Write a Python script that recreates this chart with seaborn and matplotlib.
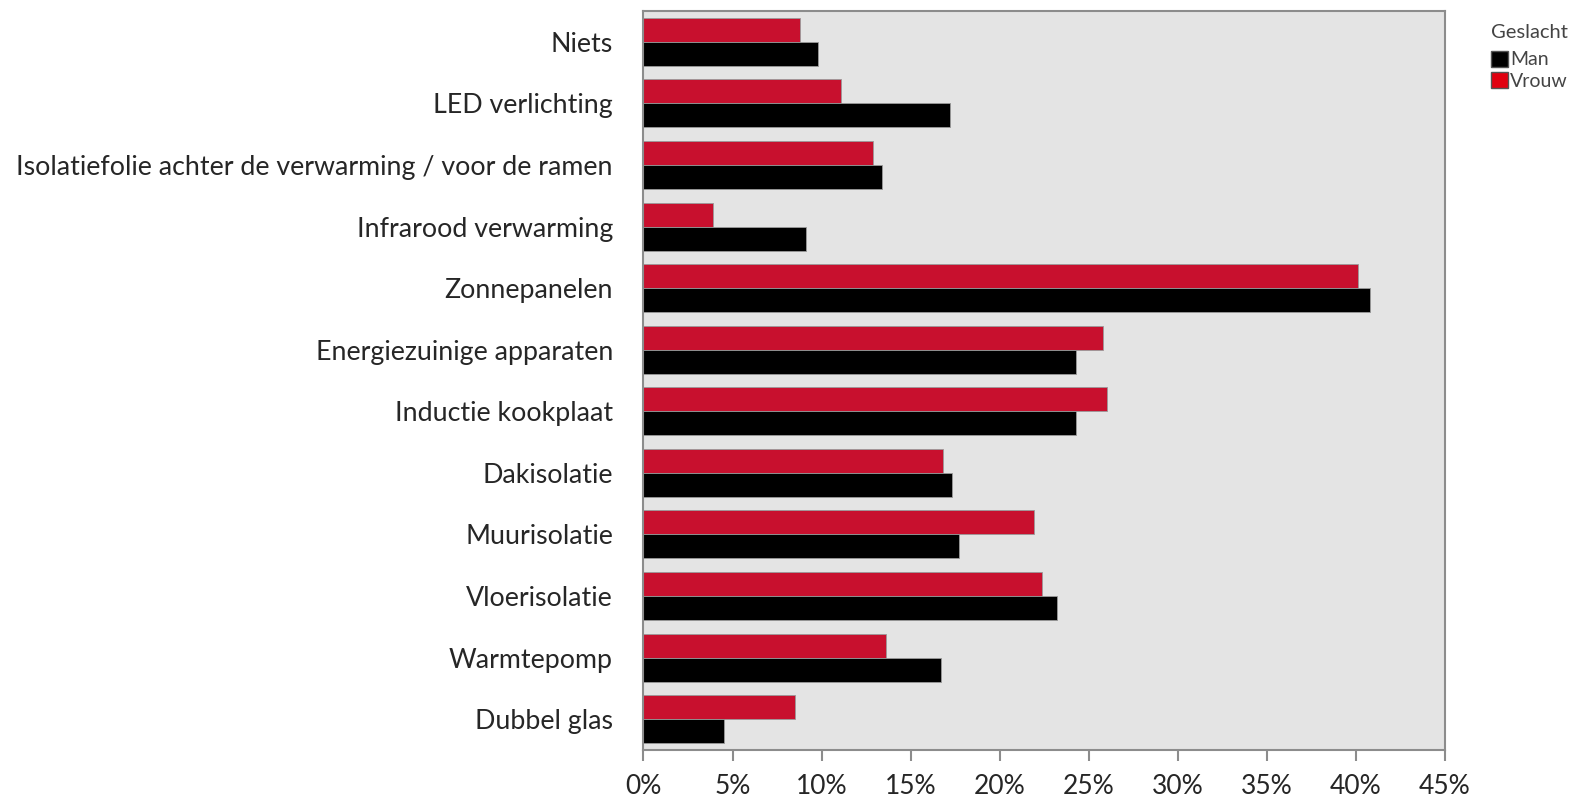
import pandas as pd
import matplotlib
matplotlib.use("Agg")
import matplotlib.pyplot as plt
import seaborn as sns
from matplotlib.patches import Patch
from matplotlib.ticker import FuncFormatter

# data (percent)
categories = ["Niets", "LED verlichting",
              "Isolatiefolie achter de verwarming / voor de ramen",
              "Infrarood verwarming", "Zonnepanelen", "Energiezuinige apparaten",
              "Inductie kookplaat", "Dakisolatie", "Muurisolatie", "Vloerisolatie",
              "Warmtepomp", "Dubbel glas"]
vrouw = [8.8, 11.1, 12.9, 3.9, 40.1, 25.8, 26.0, 16.8, 21.9, 22.4, 13.6, 8.5]
man = [9.8, 17.2, 13.4, 9.1, 40.8, 24.3, 24.3, 17.3, 17.7, 23.2, 16.7, 4.5]
ticks = [0, 5, 10, 15, 20, 25, 30, 35, 40, 45]

df = pd.DataFrame({
    "Maatregel": categories * 2,
    "Geslacht": ["Vrouw"] * len(categories) + ["Man"] * len(categories),
    "Percentage": vrouw + man,
})

sns.set_style("white")
plt.rcParams["font.family"] = ["Lato", "DejaVu Sans"]

fig = plt.figure(figsize=(15.76, 7.99), dpi=100)
ax = fig.add_axes([0.4083, 0.0613, 0.5086, 0.9249])
ax.set_facecolor("#e4e4e4")

sns.barplot(data=df, y="Maatregel", x="Percentage", hue="Geslacht",
            hue_order=["Vrouw", "Man"], order=categories,
            palette={"Vrouw": "#c8102e", "Man": "#000000"}, saturation=1,
            orient="h", width=0.78, gap=0, edgecolor="#9a9a9a", linewidth=0.6,
            legend=False, ax=ax)

ax.set_xlim(0, 45)
ax.set_xticks(ticks)
ax.xaxis.set_major_formatter(FuncFormatter(lambda v, p: f"{v:.0f}%"))
ax.set_xlabel("")
ax.set_ylabel("")
ax.tick_params(axis="x", which="both", bottom=True, length=8, width=1.5,
               color="#8c8c8c", pad=9, labelsize=19)
ax.tick_params(axis="y", length=0, pad=22, labelsize=19.3)

for side in ["left", "bottom", "right", "top"]:
    ax.spines[side].set_visible(True)
    ax.spines[side].set_color("#8c8c8c")
    ax.spines[side].set_linewidth(1.5)

handles = [Patch(facecolor="#000000", edgecolor="#555555", label="Man"),
           Patch(facecolor="#e00010", edgecolor="#555555", label="Vrouw")]
leg = fig.legend(handles=handles, title="Geslacht", loc="upper left",
                 bbox_to_anchor=(0.946, 0.97), frameon=False, fontsize=14,
                 title_fontsize=14.5, handlelength=0.9, handleheight=0.9,
                 handletextpad=0.1, labelspacing=0.2, borderaxespad=0,
                 borderpad=0)
leg._legend_box.align = "left"
leg._legend_box.sep = 7
leg.get_title().set_color("#444444")
for t in leg.get_texts():
    t.set_color("#444444")

fig.savefig("out.png", dpi=100)
